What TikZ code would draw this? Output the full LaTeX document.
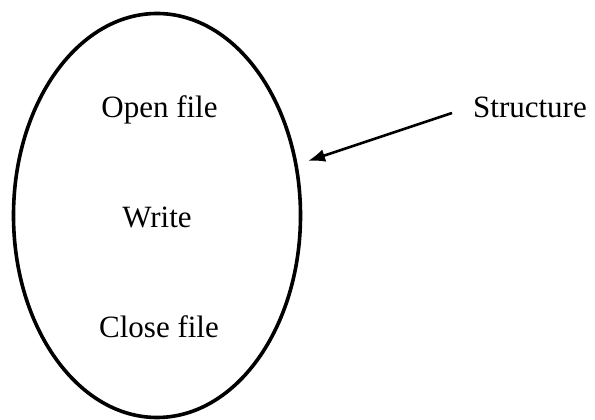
\documentclass[tikz,border=0pt]{standalone}
\usepackage{fontspec}
\setmainfont{Liberation Serif}
\usetikzlibrary{arrows.meta,shapes.geometric}

\begin{document}
\begin{tikzpicture}[x=1pt, y=1pt,
    label/.style={font=\fontsize{31}{37}\selectfont, inner sep=0pt, anchor=base},
    pointer/.style={line width=2.6pt, -{Latex[length=17pt, width=13pt]}}]
    \useasboundingbox (0,0) rectangle (595,420);

    \node[ellipse, draw, line width=3.6pt, minimum width=287pt, minimum height=404pt] (s) at (157,204.5) {};

    \node[label] (o) at (159.5,302) {Open file};
    \node[label] (w) at (157,192) {Write};
    \node[label] (c) at (159,82) {Close file};
    \node[label] (t) at (530,302) {Structure};

    \coordinate (tail) at (452,307);
    \coordinate (tip) at (308,259);
    \draw[pointer] (tail) -- (tip);
  \end{tikzpicture}
\end{document}
